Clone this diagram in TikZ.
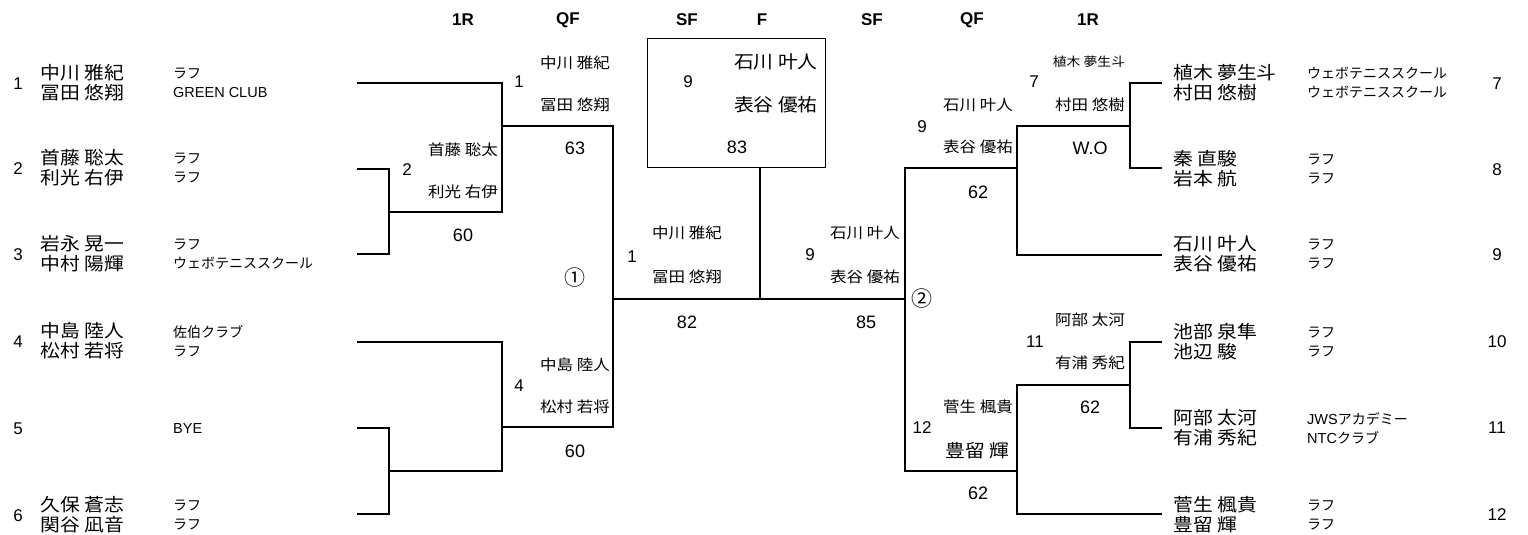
\documentclass[tikz,border=0pt]{standalone}
\usepackage{fontspec}
\setmainfont{Liberation Sans}
\newfontfamily\jp[FakeStretch=1.1]{Noto Sans CJK JP}
\newfontfamily\jpc{Noto Sans CJK JP}
\newfontfamily\en{Liberation Sans}
\usetikzlibrary{calc,positioning}

\tikzset{
  player/.style = {anchor=west, align=left, inner sep=0pt, font=\jp\fontsize{18}{20}\selectfont},
  club/.style = {anchor=west, align=left, inner sep=0pt, font=\jpc\fontsize{14}{19}\selectfont},
  seed/.style = {inner sep=0pt, font=\fontsize{17}{18}\selectfont},
  win/.style = {anchor=east, inner sep=0pt, font=\jp\fontsize{15}{18}\selectfont},
  bigwin/.style = {anchor=east, inner sep=0pt, font=\jp\fontsize{18}{20}\selectfont},
  mno/.style = {inner sep=0pt, font=\fontsize{17}{18}\selectfont},
  score/.style = {inner sep=0pt, font=\fontsize{18}{18}\selectfont},
  rnd/.style = {inner sep=0pt, font=\bfseries\fontsize{17}{18}\selectfont},
  circ/.style = {inner sep=0pt, font=\jpc\fontsize{21}{21}\selectfont},
  bline/.style = {line width=2pt}
}

\begin{document}
\begin{tikzpicture}[x=1pt, y=-1pt]
	\useasboundingbox (0,0) rectangle (1528,535);
	% rounds
	\node[rnd] (h1) at (463,20) {1R};
	\node[rnd] (h2) at (568,20) {QF};
	\node[rnd] (h3) at (687,20) {SF};
	\node[rnd] (h4) at (762,20) {F};
	\node[rnd] (h5) at (872,20) {SF};
	\node[rnd] (h6) at (972,20) {QF};
	\node[rnd] (h7) at (1088,20) {1R};

	% left entries
	\node[seed] (n1) at (18,84) {1};
	\node[player] (p1) at (40,83) {中川 雅紀\\冨田 悠翔};
	\node[club] (c1) at (173,83) {ラフ\\{\en\fontsize{14.5}{19}\selectfont GREEN CLUB}};
	\node[seed] (n2) at (18,169) {2};
	\node[player] (p2) at (40,168) {首藤 聡太\\利光 右伊};
	\node[club] (c2) at (173,168) {ラフ\\ラフ};
	\node[seed] (n3) at (18,255) {3};
	\node[player] (p3) at (40,254) {岩永 晃一\\中村 陽輝};
	\node[club] (c3) at (173,254) {ラフ\\ウェボテニススクール};
	\node[seed] (n4) at (18,342) {4};
	\node[player] (p4) at (40,341) {中島 陸人\\松村 若将};
	\node[club] (c4) at (173,341) {佐伯クラブ\\ラフ};
	\node[seed] (n5) at (18,429) {5};
	\node[club] (c5) at (173,429) {\en\fontsize{14.5}{19}\selectfont BYE};
	\node[seed] (n6) at (18,516) {6};
	\node[player] (p6) at (40,515) {久保 蒼志\\関谷 凪音};
	\node[club] (c6) at (173,515) {ラフ\\ラフ};

	% right entries
	\node[player] (p7) at (1173,83) {植木 夢生斗\\村田 悠樹};
	\node[club] (c7) at (1307,83) {ウェボテニススクール\\ウェボテニススクール};
	\node[seed] (n7) at (1497,84) {7};
	\node[player] (p8) at (1173,169) {秦 直駿\\岩本 航};
	\node[club] (c8) at (1307,169) {ラフ\\ラフ};
	\node[seed] (n8) at (1497,170) {8};
	\node[player] (p9) at (1173,254) {石川 叶人\\表谷 優祐};
	\node[club] (c9) at (1307,254) {ラフ\\ラフ};
	\node[seed] (n9) at (1497,255) {9};
	\node[player] (p10) at (1173,342) {池部 泉隼\\池辺 駿};
	\node[club] (c10) at (1307,342) {ラフ\\ラフ};
	\node[seed] (n10) at (1497,342) {10};
	\node[player] (p11) at (1173,428) {阿部 太河\\有浦 秀紀};
	\node[club] (c11) at (1307,428) {{\en\fontsize{14.5}{19}\selectfont JWS}アカデミー\\{\en\fontsize{14.5}{19}\selectfont NTC}クラブ};
	\node[seed] (n11) at (1497,428) {11};
	\node[player] (p12) at (1173,515) {菅生 楓貴\\豊留 輝};
	\node[club] (c12) at (1307,515) {ラフ\\ラフ};
	\node[seed] (n12) at (1497,515) {12};

	% line ends and joints
	\coordinate (a1) at (357,83);
	\coordinate (a2) at (357,169);
	\coordinate (a3) at (357,254);
	\coordinate (a4) at (357,342);
	\coordinate (a5) at (357,428);
	\coordinate (a6) at (357,514);
	\coordinate (m2) at (389,212);
	\coordinate (m5) at (389,471);
	\coordinate (w1) at (502,126);
	\coordinate (w4) at (502,427);
	\coordinate (s1) at (613,299);
	\coordinate (b7) at (1162,83);
	\coordinate (b8) at (1162,168);
	\coordinate (b9) at (1162,255);
	\coordinate (b10) at (1162,342);
	\coordinate (b11) at (1162,428);
	\coordinate (b12) at (1162,514);
	\coordinate (m7) at (1130,126);
	\coordinate (m11) at (1130,385);
	\coordinate (w9) at (1017,168);
	\coordinate (w12) at (1017,471);
	\coordinate (s9) at (905,299);
	\coordinate (f) at (760,299);

	% bracket
	\draw[bline] (a2) -| (m2) |- (a3);
	\draw[bline] (a1) -| (w1) |- (m2);
	\draw[bline] (a5) -| (m5) |- (a6);
	\draw[bline] (a4) -| (w4) |- (m5);
	\draw[bline] (w1) -| (s1) |- (w4);
	\draw[bline] (b7) -| (m7) |- (b8);
	\draw[bline] (m7) -| (w9) |- (b9);
	\draw[bline] (b10) -| (m11) |- (b11);
	\draw[bline] (m11) -| (w12) |- (b12);
	\draw[bline] (w9) -| (s9) |- (w12);
	\draw[bline] (s1) -- (s9);

	% final
	\node[draw, line width=1pt, minimum width=178pt, minimum height=128pt, inner sep=0pt] (fin) at (736,103) {};
	\draw[bline] (f) -- (f |- fin.south);
	\node[mno] (fn) at (688,82) {9};
	\node[bigwin] (fa) at (818,62) {石川 叶人};
	\node[bigwin] (fb) at (818,105) {表谷 優祐};
	\node[score] (fs) at (737,147) {83};

	% left side results
	\node[mno] (r2) at (407,170) {2};
	\node[win] (r2a) at (498,150) {首藤 聡太};
	\node[win] (r2b) at (498,192) {利光 右伊};
	\node[score] (r2s) at (463,235) {60};
	\node[mno] (q1) at (519,82) {1};
	\node[win] (q1a) at (610,63) {中川 雅紀};
	\node[win] (q1b) at (610,105) {冨田 悠翔};
	\node[score] (q1s) at (575,148) {63};
	\node[mno] (q4) at (519,386) {4};
	\node[win] (q4a) at (610,365) {中島 陸人};
	\node[win] (q4b) at (610,407) {松村 若将};
	\node[score] (q4s) at (575,451) {60};
	\node[circ] (k1) at (575,278) {①};
	\node[mno] (sf1) at (632,257) {1};
	\node[win] (sf1a) at (722,233) {中川 雅紀};
	\node[win] (sf1b) at (722,277) {冨田 悠翔};
	\node[score] (sf1s) at (687,322) {82};

	% right side results
	\node[mno] (sf9) at (810,255) {9};
	\node[win] (sf9a) at (900,233) {石川 叶人};
	\node[win] (sf9b) at (900,277) {表谷 優祐};
	\node[score] (sf9s) at (866,322) {85};
	\node[circ] (k2) at (922,299) {②};
	\node[mno] (q9) at (922,127) {9};
	\node[win] (q9a) at (1013,105) {石川 叶人};
	\node[win] (q9b) at (1013,147) {表谷 優祐};
	\node[score] (q9s) at (978,192) {62};
	\node[mno] (r7) at (1034,82) {7};
	\node[win, font=\jp\fontsize{12.5}{14}\selectfont] (r7a) at (1125,62) {植木 夢生斗};
	\node[win] (r7b) at (1125,105) {村田 悠樹};
	\node[score] (r7s) at (1090,148) {W.O};
	\node[mno] (r11) at (1035,342) {11};
	\node[win] (r11a) at (1125,320) {阿部 太河};
	\node[win] (r11b) at (1125,363) {有浦 秀紀};
	\node[score] (r11s) at (1090,407) {62};
	\node[mno] (q12) at (922,428) {12};
	\node[win] (q12a) at (1013,407) {菅生 楓貴};
	\node[bigwin] (q12b) at (1010,451) {豊留 輝};
	\node[score] (q12s) at (978,493) {62};
\end{tikzpicture}
\end{document}
